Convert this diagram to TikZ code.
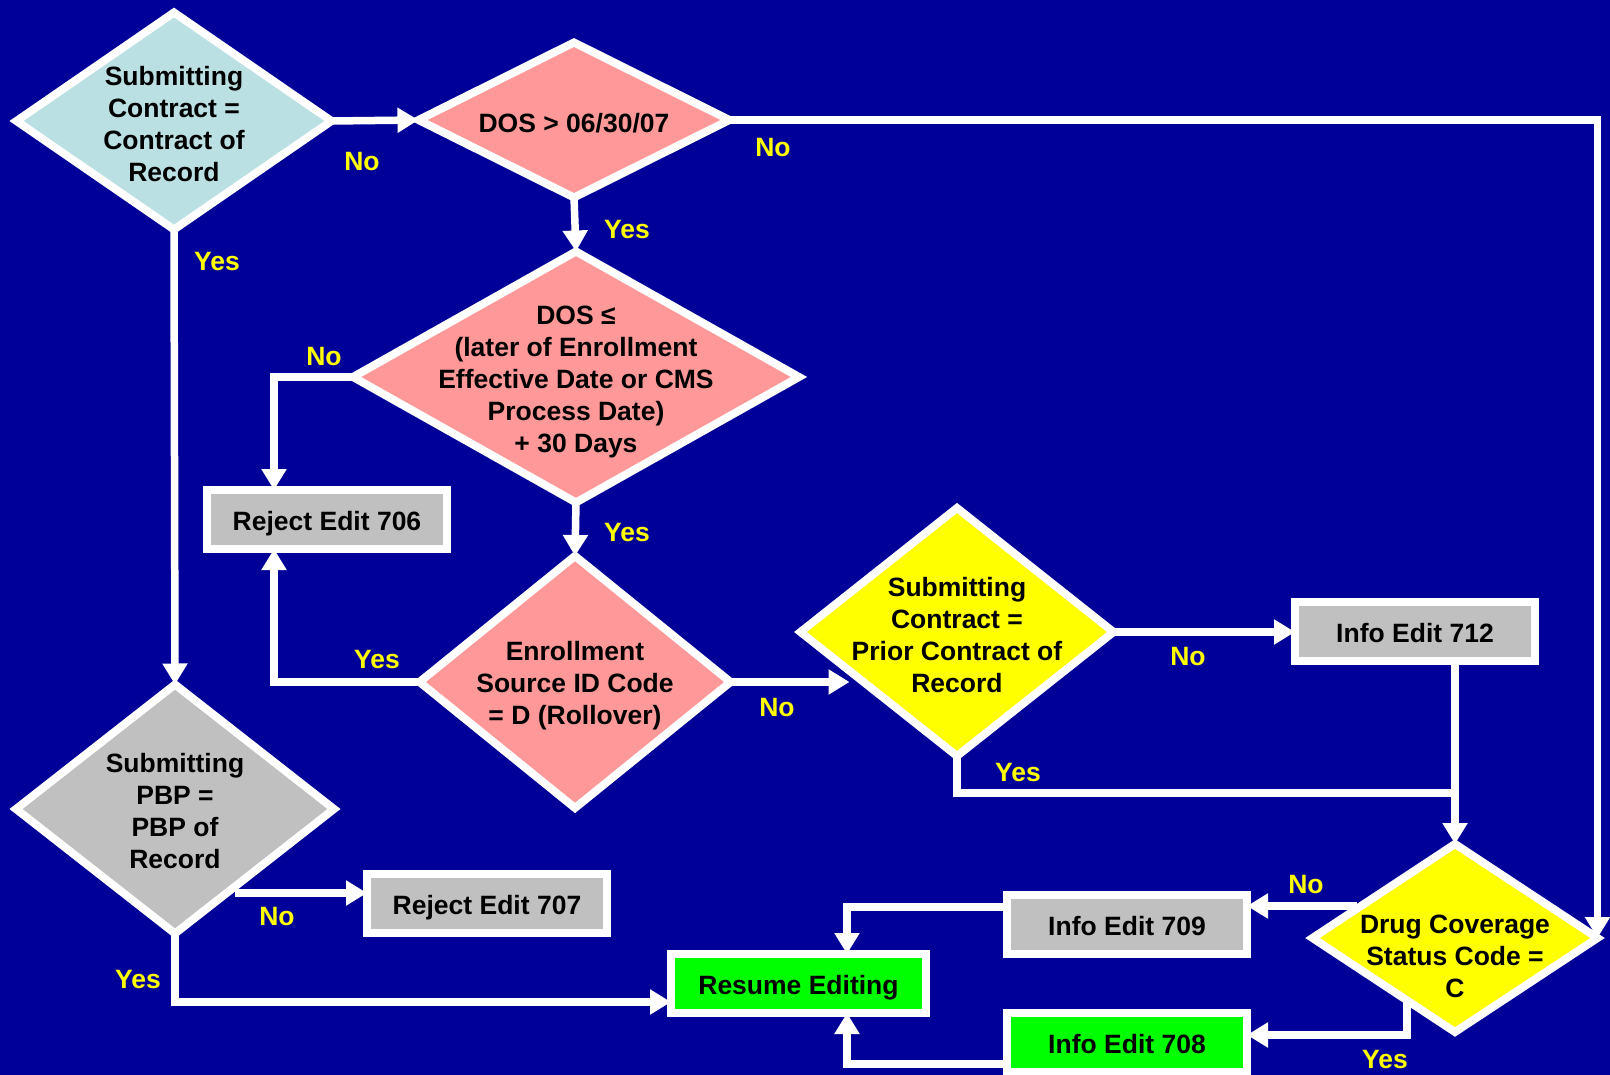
\documentclass[tikz,border=0pt]{standalone}
\usepackage{fontspec}
\setmainfont{Liberation Sans}
\usetikzlibrary{shapes.geometric,arrows.meta,calc}
\definecolor{bgnavy}{RGB}{0,0,153}
\definecolor{pinkfill}{RGB}{255,153,153}
\definecolor{cyanfill}{RGB}{187,224,227}
\definecolor{grayfill}{RGB}{192,192,192}
\definecolor{yellowfill}{RGB}{255,255,0}
\definecolor{greenfill}{RGB}{0,255,0}
\definecolor{labelyellow}{RGB}{255,255,0}

\begin{document}
\begin{tikzpicture}[x=1pt,y=-1pt,
  dia/.style={shape=diamond, draw=white, line width=8pt, inner sep=0pt, outer sep=0pt},
  box/.style={rectangle, draw=white, line width=8pt, minimum width=240pt, minimum height=59pt,
    inner sep=0pt, outer sep=0pt, text height=21pt, text depth=0pt,
    font=\bfseries\fontsize{26.5}{32}\selectfont},
  dtext/.style={align=center, inner sep=0pt, font=\bfseries\fontsize{26.5}{32}\selectfont},
  lbl/.style={text=labelyellow, inner sep=0pt, font=\bfseries\fontsize{26.5}{32}\selectfont},
  arr/.style={draw=white, line width=7.5pt, -{Triangle[length=21pt,width=24pt]}},
  wire/.style={draw=white, line width=7.5pt}
]
% background
\fill[bgnavy] (0,0) rectangle (1610,1075);
\useasboundingbox (0,0) rectangle (1610,1075);

% decisions
\node[dia, fill=cyanfill,   minimum width=315pt, minimum height=217pt] (D1) at (174,121) {};
\node[dia, fill=pinkfill,   minimum width=311pt, minimum height=155pt] (D2) at (574,120) {};
\node[dia, fill=pinkfill,   minimum width=446pt, minimum height=251pt] (D3) at (576,377) {};
\node[dia, fill=pinkfill,   minimum width=311pt, minimum height=252pt] (D4) at (575,682) {};
\node[dia, fill=yellowfill, minimum width=313pt, minimum height=248pt] (D5) at (957,632) {};
\node[dia, fill=grayfill,   minimum width=318pt, minimum height=249pt] (D6) at (175,809) {};
\node[dia, fill=yellowfill, minimum width=285pt, minimum height=188pt] (D7) at (1455,938) {};

\node[dtext] (D1t) at ($(D1)+(0,3)$) {Submitting\\Contract =\\Contract of\\Record};
\node[dtext] (D2t) at ($(D2)+(0,3)$) {DOS > 06/30/07};
\node[dtext] (D3t) at ($(D3)+(0,5)$) {DOS ≤\\(later of Enrollment\\Effective Date or CMS\\Process Date)\\+ 30 Days};
\node[dtext] (D4t) at ($(D4)+(0,4)$) {Enrollment\\Source ID Code\\= D (Rollover)};
\node[dtext] (D5t) at ($(D5)+(0,3)$) {Submitting\\Contract =\\Prior Contract of\\Record};
\node[dtext] (D6t) at ($(D6)+(0,2)$) {Submitting\\PBP =\\PBP of\\Record};
\node[dtext] (D7t) at ($(D7)+(0,18)$) {Drug Coverage\\Status Code =\\C};

% outcomes
\node[box, fill=grayfill]  (R706) at (327,519.5)   {Reject Edit 706};
\node[box, fill=grayfill]  (I712) at (1415,631.5)  {Info Edit 712};
\node[box, fill=grayfill]  (R707) at (487,903.5)   {Reject Edit 707};
\node[box, fill=greenfill, minimum width=255pt] (RES) at (798.5,983.5) {Resume Editing};
\node[box, fill=grayfill]  (I709) at (1127,924.5)  {Info Edit 709};
\node[box, fill=greenfill] (I708) at (1127,1042.5) {Info Edit 708};

% connector end points on diamond edges
\coordinate (d6no)  at ($(D6.center)+(60,84)$);
\coordinate (d7no)  at ($(D7.center)+(-98,-32)$);
\coordinate (d7yes) at ($(D7.center)+(-48,62)$);
\coordinate (merge) at ($(D7.north |- D5.south)+(0,37)$);

% connectors
\draw[arr] (D1.east) -- (D2.west);
\draw[arr] (D2.east) -| (D7.east);
\draw[arr] (D2.south) -- (D3.north);
\draw[arr] (D1.south) -- (D6.north);
\draw[arr] (D3.west) -| ($(R706.north)+(-53,0)$);
\draw[arr] (D3.south) -- (D4.north);
\draw[arr] (D4.west) -| ($(R706.south)+(-53,0)$);
\draw[arr] (D4.east) -- ($(D4.east -| D5.west)+(49,0)$);
\draw[arr] (D5.east) -- (D5.east -| I712.west);
\draw[wire] (D5.south) |- (merge);
\draw[arr] (D7.north |- I712.south) -- (D7.north);
\draw[arr] (d6no) -- (d6no -| R707.west);
\draw[arr] (D6.south) |- ($(RES.west)+(0,18.5)$);
\draw[arr] (d7no) -- (d7no -| I709.east);
\draw[arr] (d7yes) |- ($(I708.east)+(0,-7.5)$);
\draw[arr] ($(I709.west)+(0,-17.5)$) -| ($(RES.north)+(48.5,0)$);
\draw[arr] ($(I708.west)+(0,21.5)$) -| ($(RES.south)+(48.5,0)$);

% branch labels
\node[lbl] (l1)  at (362,162)   {No};
\node[lbl] (l2)  at (217,262)   {Yes};
\node[lbl] (l3)  at (773,148)   {No};
\node[lbl] (l4)  at (627,230)   {Yes};
\node[lbl] (l5)  at (324,357)   {No};
\node[lbl] (l6)  at (627,533)   {Yes};
\node[lbl] (l7)  at (377,660)   {Yes};
\node[lbl] (l8)  at (777,708)   {No};
\node[lbl] (l9)  at (1188,657)  {No};
\node[lbl] (l10) at (1018,773)  {Yes};
\node[lbl] (l11) at (277,917)   {No};
\node[lbl] (l12) at (138,980)   {Yes};
\node[lbl] (l13) at (1306,885)  {No};
\node[lbl] (l14) at (1385,1060) {Yes};
\end{tikzpicture}
\end{document}
